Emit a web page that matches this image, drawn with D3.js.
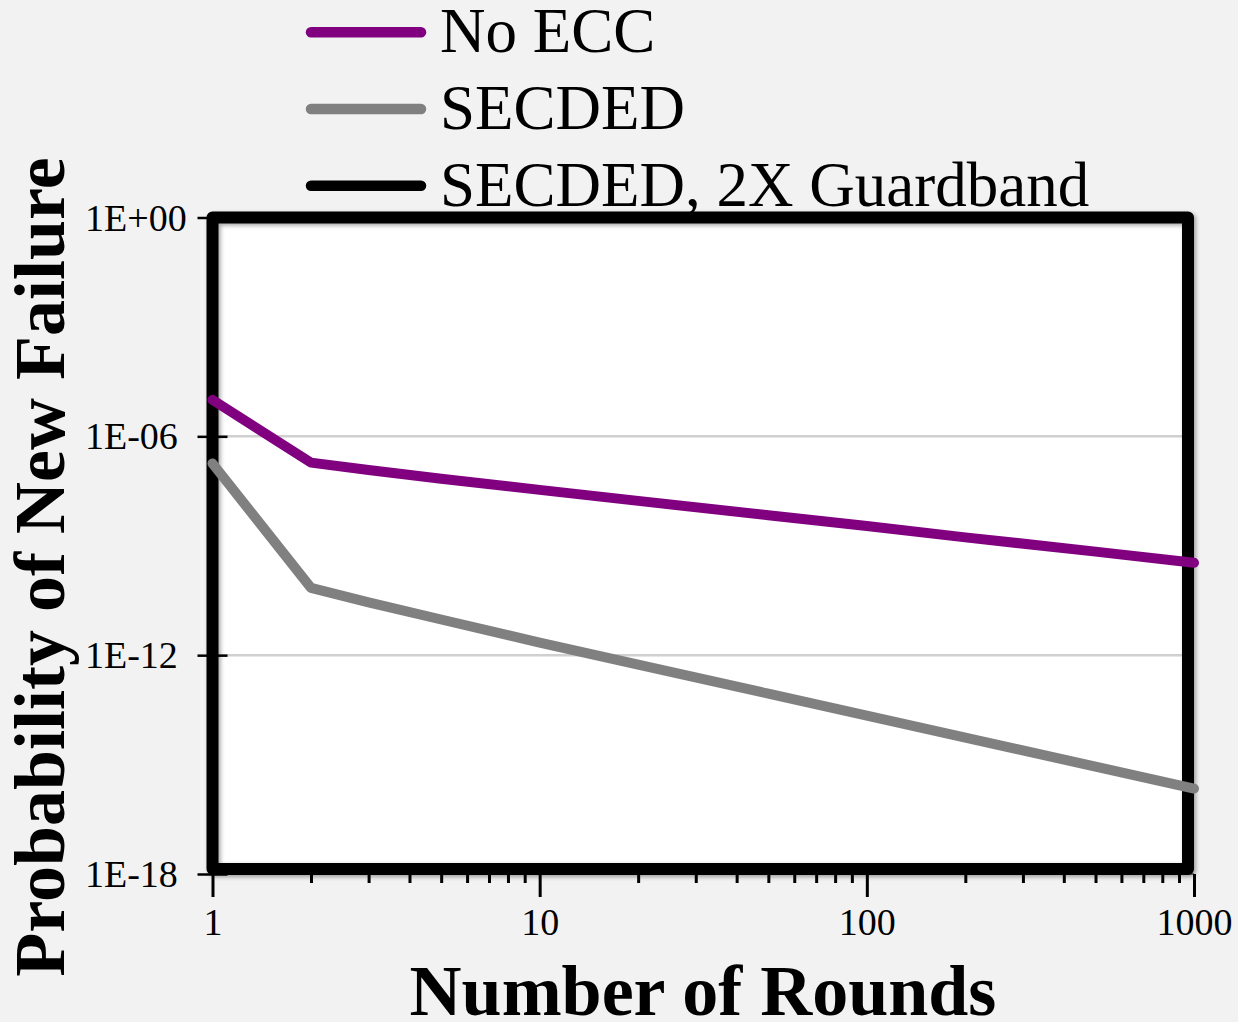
<!DOCTYPE html>
<html>
<head>
<meta charset="utf-8">
<script src="https://cdn.jsdelivr.net/npm/d3@7/dist/d3.min.js"></script>
<style>
  html, body { margin: 0; padding: 0; background: #f2f2f2; }
  svg { display: block; }
  text { font-family: "Liberation Serif", "Times New Roman", Times, serif; fill: #000; }
</style>
</head>
<body>
<svg id="chart" width="1238" height="1022"></svg>
<script>
// Number of rounds (x) and probability of a new failure per scheme (y)
const rounds = [1, 2, 3, 5, 10, 20, 50, 100, 200, 500, 1000];
const noEcc = [1.0e-5, 1.9e-7, 1.2e-7, 6.9e-8, 3.4e-8, 1.7e-8, 6.9e-9, 3.5e-9, 1.7e-9, 6.9e-10, 3.4e-10];
const secded = [1.8e-7, 7.0e-11, 2.8e-11, 9.5e-12, 2.2e-12, 5.5e-13, 8.8e-14, 2.2e-14, 5.5e-15, 8.8e-16, 2.2e-16];
const secded2x = [4.0e-20, 1.5e-24, 6.0e-25, 2.0e-25, 5.0e-26, 1.2e-26, 2.0e-27, 5.0e-28, 1.2e-28, 2.0e-29, 5.0e-30];

const seriesNames = ["No ECC", "SECDED", "SECDED, 2X Guardband"];
const seriesColors = ["#800080", "#808080", "#000000"];
const seriesValues = [noEcc, secded, secded2x];

const xMajorTicks = [1, 10, 100, 1000];
const xMinorTicks = [2,3,4,5,6,7,8,9,20,30,40,50,60,70,80,90,200,300,400,500,600,700,800,900];
const yTicks = [1e-18, 1e-12, 1e-6, 1];
const yTickLabels = ["1E-18", "1E-12", "1E-06", "1E+00"];

const xTitle = "Number of Rounds";
const yTitle = "Probability of New Failure";

const W = 1238, H = 1022;
const svg = d3.select("#chart");

const x = d3.scaleLog().domain([1, 1000]).range([212.5, 1194]);
const y = d3.scaleLog().domain([1e-18, 1]).range([874, 217.5]);

const defs = svg.append("defs");
const shadow = defs.append("filter").attr("id", "shadow")
  .attr("x", "-5%").attr("y", "-5%").attr("width", "110%").attr("height", "110%");
shadow.append("feDropShadow").attr("dx", 2).attr("dy", 2)
  .attr("stdDeviation", 2).attr("flood-color", "#000").attr("flood-opacity", 0.35);

defs.append("clipPath").attr("id", "plotClip")
  .append("rect")
  .attr("x", x(1) - 8).attr("y", y(1) - 8)
  .attr("width", x(1000) - x(1) + 16).attr("height", y(1e-18) - y(1) + 8);

svg.append("rect").attr("width", W).attr("height", H).attr("fill", "#f2f2f2");

// plot frame geometry
const fx0 = x(1), fy0 = y(1), fx1 = x(1000) - 6, fy1 = y(1e-18) - 5;

svg.append("rect")
  .attr("x", fx0).attr("y", fy0)
  .attr("width", fx1 - fx0).attr("height", fy1 - fy0)
  .attr("fill", "#ffffff");

// horizontal gridlines
svg.append("g").selectAll("line")
  .data(yTicks.filter(v => v > 1e-18 && v < 1))
  .join("line")
  .attr("x1", fx0).attr("x2", x(1000))
  .attr("y1", d => y(d)).attr("y2", d => y(d))
  .attr("stroke", "#d0d0d0").attr("stroke-width", 2.5);

// x axis: baseline, major and minor ticks
const xAxisG = svg.append("g").attr("transform", `translate(0,${y(1e-18)})`);
xAxisG.append("line")
  .attr("x1", x(1)).attr("x2", x(1000))
  .attr("stroke", "#555").attr("stroke-width", 1.5);
const xMinor = d3.axisBottom(x).tickValues(xMinorTicks).tickSize(9).tickFormat("");
const xMajor = d3.axisBottom(x).tickValues(xMajorTicks).tickSize(23).tickPadding(11)
  .tickFormat(d => String(d));
const gMinor = xAxisG.append("g").call(xMinor);
const gMajor = xAxisG.append("g").call(xMajor);
[gMinor, gMajor].forEach(g => {
  g.select(".domain").remove();
  g.selectAll(".tick line").attr("stroke", "#000").attr("stroke-width", 3);
});
gMajor.selectAll(".tick text")
  .style("font-family", "'Liberation Serif', 'Times New Roman', serif")
  .attr("font-size", 38).attr("fill", "#000");

// frame drawn over the gridlines
svg.append("rect")
  .attr("x", fx0).attr("y", fy0)
  .attr("width", fx1 - fx0).attr("height", fy1 - fy0)
  .attr("fill", "none").attr("stroke", "#000").attr("stroke-width", 12)
  .attr("stroke-linejoin", "round")
  .attr("filter", "url(#shadow)");

// y axis: crossing ticks and left-aligned labels
const yAxis = d3.axisLeft(y).tickValues(yTicks).tickSize(15).tickPadding(0)
  .tickFormat((d, i) => yTickLabels[i]);
const yAxisG = svg.append("g").attr("transform", `translate(${x(1)},0)`).call(yAxis);
yAxisG.select(".domain").remove();
yAxisG.selectAll(".tick line").attr("stroke", "#000").attr("stroke-width", 2.5).attr("x2", 15).attr("x1", -15);
yAxisG.selectAll(".tick text")
  .style("font-family", "'Liberation Serif', 'Times New Roman', serif")
  .attr("font-size", 38).attr("fill", "#000")
  .attr("text-anchor", "start").attr("x", 85 - x(1)).attr("dy", "0.33em");

// data lines
const line = d3.line().x(d => x(d[0])).y(d => y(d[1]));
svg.append("g").attr("clip-path", "url(#plotClip)")
  .selectAll("path")
  .data(seriesValues.map((vals, i) => ({ name: seriesNames[i], color: seriesColors[i], pts: rounds.map((r, j) => [r, vals[j]]) })))
  .join("path")
  .attr("d", d => line(d.pts))
  .attr("fill", "none")
  .attr("stroke", d => d.color)
  .attr("stroke-width", 10)
  .attr("stroke-linecap", "round")
  .attr("stroke-linejoin", "round");

// legend
const legend = svg.append("g");
const legendItems = legend.selectAll("g")
  .data(seriesNames.map((n, i) => ({ name: n, color: seriesColors[i] })))
  .join("g")
  .attr("transform", (d, i) => `translate(0,${32.3 + i * 76.7})`);
legendItems.append("line")
  .attr("x1", 311).attr("x2", 421)
  .attr("stroke", d => d.color).attr("stroke-width", 10.5)
  .attr("stroke-linecap", "round");
legendItems.append("text")
  .attr("x", 440).attr("y", 20)
  .attr("font-size", 63)
  .text(d => d.name);

// axis titles
svg.append("text")
  .attr("x", 703).attr("y", 1015)
  .attr("text-anchor", "middle")
  .attr("font-size", 72).attr("font-weight", "bold")
  .text(xTitle);
svg.append("text")
  .attr("transform", "translate(64,567) rotate(-90)")
  .attr("text-anchor", "middle")
  .attr("font-size", 72).attr("font-weight", "bold")
  .text(yTitle);
</script>
</body>
</html>
